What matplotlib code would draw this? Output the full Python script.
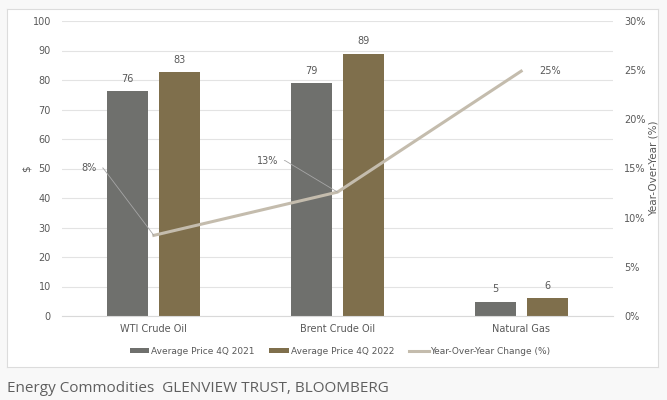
import matplotlib.pyplot as plt
import numpy as np

# Data
categories = ["WTI Crude Oil", "Brent Crude Oil", "Natural Gas"]
price_2021 = [76.3, 78.9, 4.9]
price_2022 = [82.6, 88.9, 6.1]
labels_2021 = ["76", "79", "5"]
labels_2022 = ["83", "89", "6"]
yoy_change = [8.2, 12.6, 24.9]
yoy_labels = ["8%", "13%", "25%"]

c_2021 = "#6f706d"
c_2022 = "#7f6f4c"
c_line = "#c4bcad"
c_text = "#595959"
c_grid = "#e3e3e3"

fig = plt.figure(figsize=(6.67, 4.0), dpi=100)
fig.patch.set_facecolor("#f8f8f8")

# white chart panel with thin border (an empty axes behind everything)
bg = fig.add_axes([7 / 667, 1 - 367 / 400, 651 / 667, 358 / 400], zorder=-5)
bg.set_xticks([])
bg.set_yticks([])
bg.set_facecolor("white")
for s in bg.spines.values():
    s.set_color("#dcdcdc")
    s.set_linewidth(0.8)

ax = fig.add_axes([62 / 667, 1 - 316 / 400, 551 / 667, 295 / 400])
ax.set_facecolor("none")
ax2 = ax.twinx()

x = np.arange(len(categories))
w = 0.223
off = 0.142

b1 = ax.bar(x - off, price_2021, w, color=c_2021, label="Average Price 4Q 2021", zorder=2)
b2 = ax.bar(x + off, price_2022, w, color=c_2022, label="Average Price 4Q 2022", zorder=2)

for xi, v, s in zip(x - off, price_2021, labels_2021):
    ax.text(xi, v + 2.5, s, ha="center", va="bottom", fontsize=7, color=c_text)
for xi, v, s in zip(x + off, price_2022, labels_2022):
    ax.text(xi, v + 2.5, s, ha="center", va="bottom", fontsize=7, color=c_text)

ax.set_xlim(-0.5, 2.5)
ax.set_ylim(0, 100)
ax.set_yticks(np.arange(0, 101, 10))
ax.grid(axis="y", color=c_grid, linewidth=0.8, zorder=0)
ax.set_axisbelow(True)
ax.set_xticks(x)
ax.set_xticklabels(categories)
ax.tick_params(axis="both", length=0, labelsize=7, colors=c_text, pad=6)
ax.tick_params(axis="y", pad=8)
for s in ax.spines.values():
    s.set_visible(False)
ax.spines["bottom"].set_visible(True)
ax.spines["bottom"].set_color("#d9d9d9")
ax.set_ylabel("$", fontsize=7.5, color=c_text)
ax.yaxis.set_label_coords(-30 / 551, 0.5)

line, = ax2.plot(x, yoy_change, color=c_line, linewidth=2.2, zorder=3,
                 label="Year-Over-Year Change (%)")
ax2.set_ylim(0, 30)
ax2.set_yticks(np.arange(0, 31, 5))
ax2.set_yticklabels([f"{t}%" for t in range(0, 31, 5)])
ax2.tick_params(axis="y", length=0, labelsize=7, colors=c_text, pad=8)
for s in ax2.spines.values():
    s.set_visible(False)
ax2.set_ylabel("Year-Over-Year (%)", fontsize=7.5, color=c_text, rotation=90)
ax2.yaxis.set_label_coords(1 + 36 / 551, 0.5)

# data labels for the line, first two with leader lines
ax2.annotate(yoy_labels[0], xy=(x[0], yoy_change[0]), xytext=(x[0] - 0.31, 15.05),
             ha="right", va="center", fontsize=7, color=c_text,
             arrowprops=dict(arrowstyle="-", color="#a6a6a6", lw=0.6, shrinkA=2, shrinkB=0,
                             connectionstyle="angle,angleA=0,angleB=127,rad=0"))
ax2.annotate(yoy_labels[1], xy=(x[1], yoy_change[1]), xytext=(x[1] - 0.32, 15.8),
             ha="right", va="center", fontsize=7, color=c_text,
             arrowprops=dict(arrowstyle="-", color="#a6a6a6", lw=0.6, shrinkA=2, shrinkB=0,
                             connectionstyle="angle,angleA=0,angleB=149,rad=0"))
ax2.text(x[2] + 0.1, yoy_change[2], yoy_labels[2], ha="left", va="center",
         fontsize=7, color=c_text)

handles = [b1, b2, line]
fig.legend(handles, [h.get_label() for h in handles], loc="center",
           bbox_to_anchor=(340 / 667, 1 - 351 / 400), ncol=3, frameon=False,
           fontsize=6.5, labelcolor=c_text, handlelength=2.2, handleheight=0.5,
           handletextpad=0.2, columnspacing=1.6)

fig.text(7 / 667, 1 - 388 / 400, "Energy Commodities  GLENVIEW TRUST, BLOOMBERG",
         fontsize=11, color="#5f5f5f", va="center", ha="left", family="Open Sans")

fig.savefig("out.png", dpi=100, facecolor=fig.get_facecolor())
